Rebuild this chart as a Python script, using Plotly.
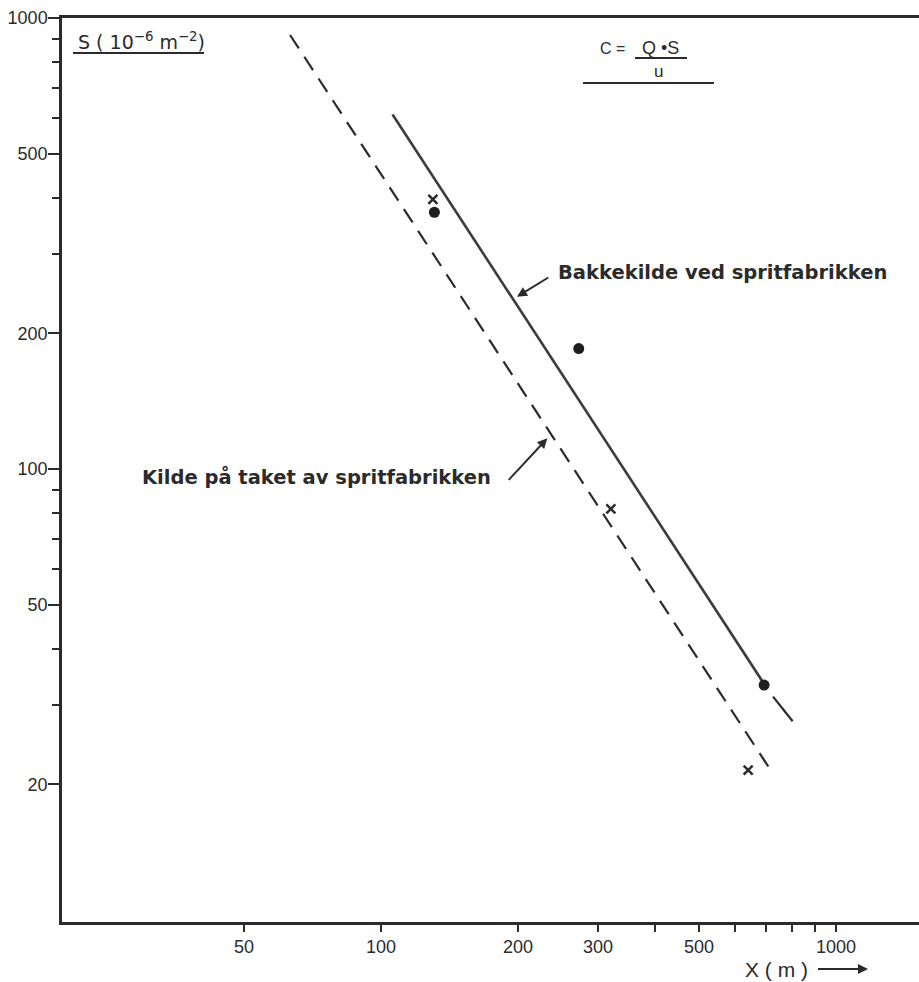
import plotly.graph_objects as go
import math

# ---- data ----
bakke_line_x = [106, 691]          # solid line: Bakkekilde ved spritfabrikken
bakke_line_y = [611, 33.7]
bakke_ext_x = [727, 803]           # short continuation of the solid line past the last point
bakke_ext_y = [31.3, 27.6]
tak_line_x = [63.1, 723]           # dashed line: Kilde på taket av spritfabrikken
tak_line_y = [917, 21.3]

dots_x = [131, 272, 695]           # measured points (dots)
dots_y = [371, 185, 33.2]
cross_x = [130, 320, 641]          # measured points (crosses)
cross_y = [396, 81.6, 21.5]

x_tick_vals = [50, 100, 200, 300, 500, 1000]
x_tick_text = ["50", "100", "200", "300", "500", "1000"]
x_minor_vals = [400, 600, 700, 800, 900]
y_tick_vals = [20, 50, 100, 200, 500, 1000]
y_tick_text = ["20", "50", "100", "200", "500", "1000"]
y_minor_vals = [30, 40, 60, 70, 80, 90, 300, 400, 600, 700, 800, 900]

INK = "#2b2b2b"
FONT = "Liberation Sans"
LFONT = "DejaVu Sans"

W, H = 919, 982
L, R, T, B = 62, 0, 18, 60
PW, PH = W - L - R, H - T - B


def px(xp):
    return (xp - L) / PW


def py(yp):
    return (H - B - yp) / PH


fig = go.Figure()

fig.add_trace(go.Scatter(x=bakke_line_x, y=bakke_line_y, mode="lines",
                         line=dict(color="#3c3c3c", width=2.6), showlegend=False))
fig.add_trace(go.Scatter(x=bakke_ext_x, y=bakke_ext_y, mode="lines",
                         line=dict(color=INK, width=2.2), showlegend=False))
fig.add_trace(go.Scatter(x=tak_line_x, y=tak_line_y, mode="lines",
                         line=dict(color=INK, width=2.2, dash="16px,10px"), showlegend=False))
fig.add_trace(go.Scatter(x=dots_x, y=dots_y, mode="markers",
                         marker=dict(symbol="circle", size=11, color="#1e1e1e"), showlegend=False))
fig.add_trace(go.Scatter(x=cross_x, y=cross_y, mode="markers",
                         marker=dict(symbol="x-thin-open", size=9, color=INK,
                                     line=dict(width=2.5, color=INK)), showlegend=False))

annotations = []
shapes = []

# solid line label with arrow
hx, hy = 517, 298  # arrow head (pixel)
annotations.append(dict(x=math.log10(199), y=math.log10(241), xref="x", yref="y",
                        text="<b>Bakkekilde ved spritfabrikken</b>",
                        font=dict(family=LFONT, size=19.5, color=INK),
                        xanchor="left", yanchor="middle",
                        showarrow=True, ax=556 - hx, ay=274 - hy, startstandoff=9,
                        arrowhead=2, arrowsize=1, arrowwidth=2, arrowcolor=INK))
# dashed line label + arrow
annotations.append(dict(xref="paper", yref="paper", x=px(493), y=py(477),
                        xanchor="right", yanchor="middle", showarrow=False,
                        text="<b>Kilde på taket av spritfabrikken</b>",
                        font=dict(family=LFONT, size=19.5, color=INK)))
annotations.append(dict(x=math.log10(232), y=math.log10(117), xref="x", yref="y",
                        text="", showarrow=True, ax=-40, ay=43,
                        arrowhead=2, arrowsize=1, arrowwidth=2, arrowcolor=INK))

# y axis title (top left, underlined)
annotations.append(dict(xref="paper", yref="paper", x=px(76), y=py(41), xanchor="left",
                        yanchor="middle", showarrow=False,
                        text="S ( 10<sup>−6</sup> m<sup>−2</sup>)",
                        font=dict(family=LFONT, size=19, color=INK)))
shapes.append(dict(type="line", xref="paper", yref="paper", x0=px(73), x1=px(204),
                   y0=py(53), y1=py(53), line=dict(color=INK, width=2)))

# formula C = Q.S / u
annotations.append(dict(xref="paper", yref="paper", x=px(612), y=py(48), xanchor="center",
                        yanchor="middle", showarrow=False, text="C =",
                        font=dict(family=FONT, size=16, color=INK)))
annotations.append(dict(xref="paper", yref="paper", x=px(660), y=py(48), xanchor="center",
                        yanchor="middle", showarrow=False, text="Q •S",
                        font=dict(family=FONT, size=18, color=INK)))
shapes.append(dict(type="line", xref="paper", yref="paper", x0=px(635), x1=px(687),
                   y0=py(58), y1=py(58), line=dict(color=INK, width=1.8)))
annotations.append(dict(xref="paper", yref="paper", x=px(658), y=py(71), xanchor="center",
                        yanchor="middle", showarrow=False, text="u",
                        font=dict(family=FONT, size=17, color=INK)))
shapes.append(dict(type="line", xref="paper", yref="paper", x0=px(583), x1=px(714),
                   y0=py(83), y1=py(83), line=dict(color=INK, width=2)))

# x axis title with arrow
annotations.append(dict(xref="paper", yref="paper", x=px(868), y=py(969),
                        text="X ( m )", font=dict(family=FONT, size=21, color=INK),
                        xanchor="right", yanchor="middle",
                        showarrow=True, ax=810 - 868, ay=0, startstandoff=8,
                        arrowhead=2, arrowsize=1, arrowwidth=2, arrowcolor=INK))

fig.update_layout(
    width=W, height=H,
    margin=dict(l=L, r=R, t=T, b=B, pad=0),
    paper_bgcolor="white", plot_bgcolor="white",
    showlegend=False,
    annotations=annotations,
    shapes=shapes,
    font=dict(family=FONT, size=18, color=INK),
)

fig.update_xaxes(
    type="log",
    range=[math.log10(19.9), math.log10(19.9) + PW / 455.0],
    showgrid=False, zeroline=False,
    showline=True, linecolor=INK, linewidth=2.5, mirror=True,
    ticks="outside", ticklen=7, tickwidth=2, tickcolor=INK,
    tickmode="array", tickvals=x_tick_vals, ticktext=x_tick_text,
    tickfont=dict(family=FONT, size=18, color=INK),
    minor=dict(ticks="outside", ticklen=7, tickwidth=2, tickcolor=INK,
               tickmode="array", tickvals=x_minor_vals),
)
fig.update_yaxes(
    type="log",
    range=[math.log10(10) - 0.004, 3.0],
    showgrid=False, zeroline=False,
    showline=True, linecolor=INK, linewidth=2.5,
    ticks="outside", ticklen=11, tickwidth=2, tickcolor=INK,
    ticklabelstandoff=-3,
    tickmode="array", tickvals=y_tick_vals, ticktext=y_tick_text,
    tickfont=dict(family=FONT, size=18, color=INK),
    minor=dict(ticks="outside", ticklen=7, tickwidth=2, tickcolor=INK,
               tickmode="array", tickvals=y_minor_vals),
)

fig.write_html("out.html", config={"displayModeBar": False},
               post_script="document.body.style.margin='0';document.body.style.overflow='hidden';")
